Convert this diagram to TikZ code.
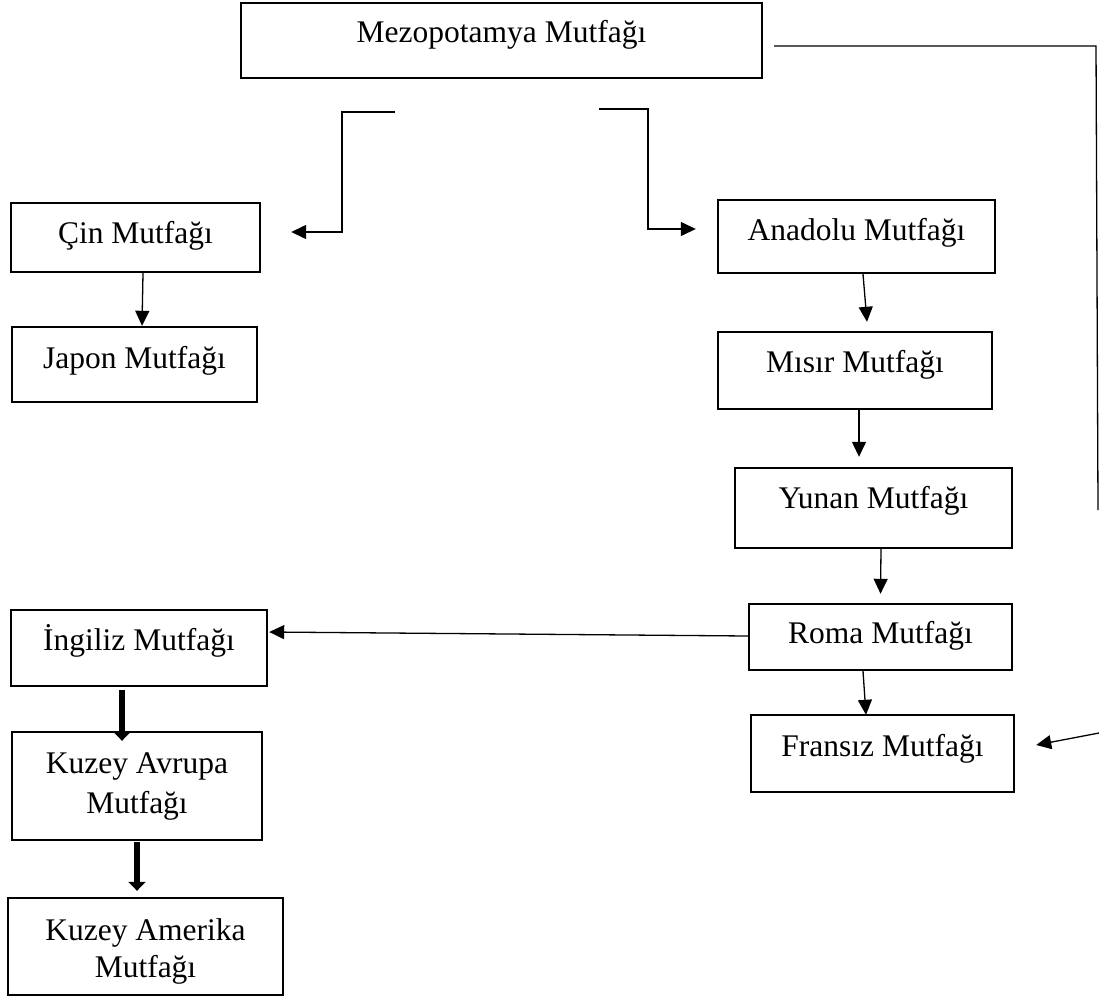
\documentclass[tikz,border=0pt]{standalone}
\usepackage{fontspec}
\setmainfont{Liberation Serif}
\usetikzlibrary{arrows.meta}
\begin{document}
\begin{tikzpicture}[x=1pt,y=-1pt,
  box/.style={draw, line width=2.4pt, inner sep=0pt},
  lbl/.style={anchor=base, inner sep=0pt, font=\fontsize{31.5pt}{38pt}\selectfont},
  thin/.style={draw, line width=1.3pt},
  arr/.style={thin, -{Triangle[length=15pt,width=14pt]}},
  bold/.style={draw, line width=6.5pt, -{Triangle[length=9pt,width=17pt]}}
]
\useasboundingbox (0,0) rectangle (1099,998);

% boxes
\node[box, minimum width=521pt, minimum height=75pt] (mez) at (501.5,40.5) {};
\node[box, minimum width=249pt, minimum height=69pt] (cin) at (135.5,237.5) {};
\node[box, minimum width=245pt, minimum height=75pt] (jap) at (134.5,364.5) {};
\node[box, minimum width=277pt, minimum height=73pt] (ana) at (856.5,236.5) {};
\node[box, minimum width=274pt, minimum height=77pt] (mis) at (855,370.5) {};
\node[box, minimum width=277pt, minimum height=80pt] (yun) at (873.5,508) {};
\node[box, minimum width=263pt, minimum height=66pt] (rom) at (880.5,637) {};
\node[box, minimum width=263pt, minimum height=77pt] (fra) at (882.5,753.5) {};
\node[box, minimum width=256pt, minimum height=76pt] (ing) at (139,648) {};
\node[box, minimum width=250pt, minimum height=108pt] (kav) at (137,786) {};
\node[box, minimum width=275pt, minimum height=97pt] (kam) at (145.5,946.5) {};

% labels
\node[lbl] (mezT) at (501.5,43) {Mezopotamya Mutfağı};
\node[lbl] (cinT) at (135.5,243) {Çin Mutfağı};
\node[lbl] (japT) at (134.5,368) {Japon Mutfağı};
\node[lbl] (anaT) at (856.5,240) {Anadolu Mutfağı};
\node[lbl] (misT) at (855,372) {Mısır Mutfağı};
\node[lbl] (yunT) at (873.5,508) {Yunan Mutfağı};
\node[lbl] (romT) at (880.5,643) {Roma Mutfağı};
\node[lbl] (fraT) at (882.5,756) {Fransız Mutfağı};
\node[lbl] (ingT) at (139,650) {İngiliz Mutfağı};
\node[lbl] (kavT1) at (137,773) {Kuzey Avrupa};
\node[lbl] (kavT2) at (137,813) {Mutfağı};
\node[lbl] (kamT1) at (145.5,940) {Kuzey Amerika};
\node[lbl] (kamT2) at (145.5,977) {Mutfağı};

% free ends and bends of the elbow connectors
\coordinate (lstart) at (395,112);
\coordinate (lbend) at (342,112);
\coordinate (rstart) at (599,109);
\coordinate (rbend) at (648,109);
\coordinate (longturn) at (1096,46);
\coordinate (longend) at (1098,510);
\coordinate (frain) at (1099,733);

% elbows from below the top box
\draw[arr] (lstart) -- (lbend) |- ([xshift=30pt,yshift=5.5pt]cin.east);
\draw[arr] (rstart) -- (rbend) |- ([xshift=-21pt,yshift=7.5pt]ana.west);

% long line on the right
\draw[thin] ([xshift=11pt,yshift=-5.5pt]mez.east) -- (longturn) -- (longend);
\draw[arr] (frain) -- ([xshift=21pt,yshift=8.5pt]fra.east);

% chains
\draw[arr] ([xshift=7.5pt]cin.south) -- ([xshift=7.5pt]jap.north);
\draw[arr] ([xshift=6.5pt]ana.south) -- ([xshift=12pt,yshift=9pt]mis.north);
\draw[arr] ([xshift=4pt]mis.south) -- ([xshift=-14.5pt,yshift=10pt]yun.north);
\draw[arr] ([xshift=7.5pt]yun.south) -- ([yshift=9pt]rom.north);
\draw[arr] ([xshift=-17.5pt]rom.south) -- ([xshift=-16.5pt,yshift=-1pt]fra.north);
\draw[arr] ([yshift=1pt]rom.west) -- ([xshift=1pt,yshift=16pt]ing.east);

% thick arrows on the left
\draw[bold] ([xshift=-17pt,yshift=-3pt]ing.south) -- ([xshift=-15pt,yshift=-10pt]kav.north);
\draw[bold] ([yshift=-1pt]kav.south) -- ([xshift=-8.5pt,yshift=6pt]kam.north);
\end{tikzpicture}
\end{document}
